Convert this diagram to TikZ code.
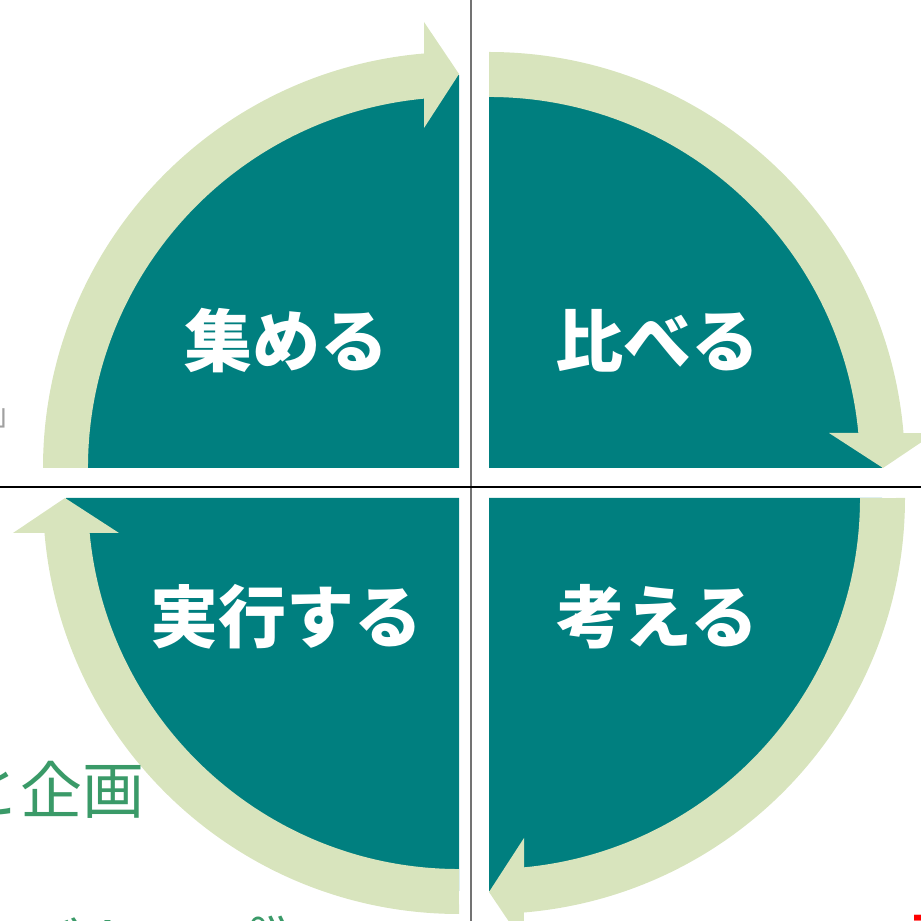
\documentclass[tikz,border=0pt]{standalone}
\usepackage{fontspec}
\newfontfamily\jpfont{Noto Sans CJK JP}
\definecolor{tealq}{HTML}{007F7F}
\definecolor{bandg}{HTML}{D8E4BD}
\definecolor{txtgreen}{HTML}{3A9A68}
\definecolor{bracketgray}{HTML}{A0A0A0}
\tikzset{
  quad/.style={fill=tealq, draw=none},
  steptext/.style={text=white, font=\jpfont\bfseries\fontsize{68}{72}\selectfont, inner sep=0pt},
  sidetext/.style={text=txtgreen, font=\jpfont\fontsize{62}{64}\selectfont, inner sep=0pt},
  cycarrow/.pic={
    \fill[bandg] (0,416) arc[start angle=90,end angle=4.82,radius=416]
      -- (446,35) -- (394,0) -- (340,35) -- (369.35,35)
      arc[start angle=5.41,end angle=90,radius=371] -- cycle;
  }
}
\begin{document}
\begin{tikzpicture}[x=1pt,y=1pt]
\useasboundingbox (0,0) rectangle (921,921);
% quarter discs
\fill[quad] (459,453) -- (66,453) arc[start angle=180,end angle=90,radius=393] -- cycle;
\fill[quad] (489,453) -- (489,846) arc[start angle=90,end angle=0,radius=393] -- cycle;
\fill[quad] (489,423) -- (882,423) arc[start angle=0,end angle=-90,radius=393] -- cycle;
\fill[quad] (459,423) -- (459,30) arc[start angle=270,end angle=180,radius=393] -- cycle;
% circular arrows
\pic[rotate=90] at (459,453) {cycarrow};
\pic at (489,453) {cycarrow};
\pic[rotate=-90] at (489,423) {cycarrow};
\pic[rotate=180] at (459,423) {cycarrow};
% cross lines
\coordinate (vtop) at (471,921);
\coordinate (vbot) at (471,0);
\coordinate (hl) at (0,434);
\coordinate (hr) at (921,434);
\draw[line width=1.6pt, color=black!55] (vtop) -- (vbot);
\draw[line width=1.3pt, color=black] (hl) -- (hr);
% step labels
\node[steptext] (collect) at (286,580) {集める};
\node[steptext] (compare) at (657,580) {比べる};
\node[steptext] (execute) at (286,304) {実行する};
\node[steptext] (think) at (657,304) {考える};
% edge fragments
\node[sidetext, anchor=base east] (plan) at (145,107) {と企画};
\node[sidetext, anchor=base west] (bottomfrag) at (20,-47) {バトープ》};
\node[text=bracketgray, font=\jpfont\fontsize{30}{32}\selectfont, inner sep=0pt, anchor=base west] (brk) at (-6,495) {」};
\node[text=red, font=\jpfont\bfseries\fontsize{40}{40}\selectfont, inner sep=0pt, anchor=north west] (redfrag) at (912,6) {下};
\end{tikzpicture}
\end{document}
